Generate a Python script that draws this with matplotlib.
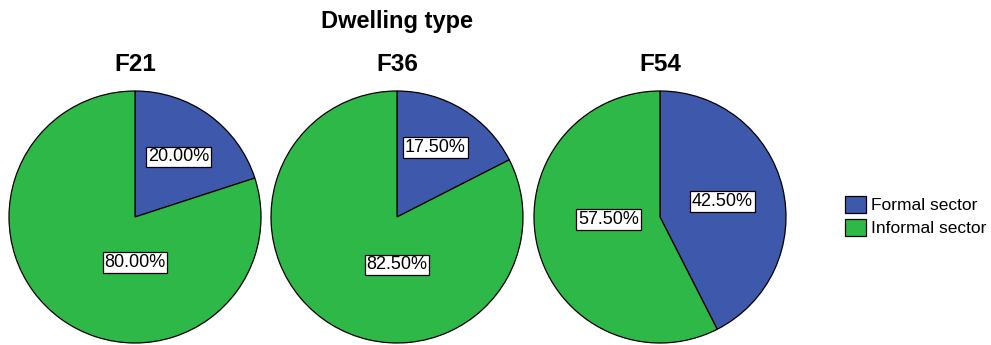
import matplotlib
matplotlib.use("Agg")
import matplotlib.pyplot as plt
from matplotlib.patches import Patch
import numpy as np

plt.rcParams['font.family'] = ['Liberation Sans', 'DejaVu Sans']

# Data
chart_title = "Dwelling type"
groups = ["F21", "F36", "F54"]
categories = ["Formal sector", "Informal sector"]
formal_pct = [20.0, 17.5, 42.5]
informal_pct = [80.0, 82.5, 57.5]

colors = ["#3E58AC", "#2EB848"]

# label placement per pie: (angle in degrees, distance as fraction of radius)
label_layout = [
    [(54, 0.59), (-90, 0.36)],
    [(61, 0.63), (-90, 0.38)],
    [(14, 0.51), (183, 0.41)],
]

W, H = 991, 345
fig = plt.figure(figsize=(W / 100, H / 100), dpi=100)

centers_x = [135, 397, 660]
center_y = 217
radius = 126

for i, (g, cx) in enumerate(zip(groups, centers_x)):
    ax = fig.add_axes([(cx - radius) / W, (H - center_y - radius) / H,
                       2 * radius / W, 2 * radius / H])
    vals = [formal_pct[i], informal_pct[i]]
    wedges, _ = ax.pie(vals, colors=colors, startangle=90, counterclock=False,
                       radius=1.0,
                       wedgeprops=dict(edgecolor="black", linewidth=0.9))
    for w in wedges:
        w.set_clip_on(False)
    ax.set_xlim(-1, 1)
    ax.set_ylim(-1, 1)
    ax.set_aspect("equal")
    ax.axis("off")
    for v, (ang, dist) in zip(vals, label_layout[i]):
        a = np.deg2rad(ang)
        ax.text(dist * np.cos(a), dist * np.sin(a), f"{v:.2f}%",
                ha="center", va="center", fontsize=13, color="black",
                bbox=dict(boxstyle="square,pad=0.1", facecolor="white",
                          edgecolor="black", linewidth=0.9))
    fig.text(cx / W, 1 - 62 / H, g, ha="center", va="center_baseline",
             fontsize=17.5, fontweight="bold")

fig.text(397 / W, 1 - 19 / H, chart_title, ha="center", va="center_baseline",
         fontsize=17, fontweight="bold")

handles = [Patch(facecolor=c, edgecolor="black", linewidth=0.9) for c in colors]
fig.legend(handles, categories, loc="center left",
           bbox_to_anchor=(833 / W, 1 - 216 / H), frameon=False,
           fontsize=12.5, handlelength=1.2, handleheight=1.2,
           handletextpad=0.3, labelspacing=0.3, borderpad=0.2)

fig.savefig("out.png", dpi=100, facecolor="white")
